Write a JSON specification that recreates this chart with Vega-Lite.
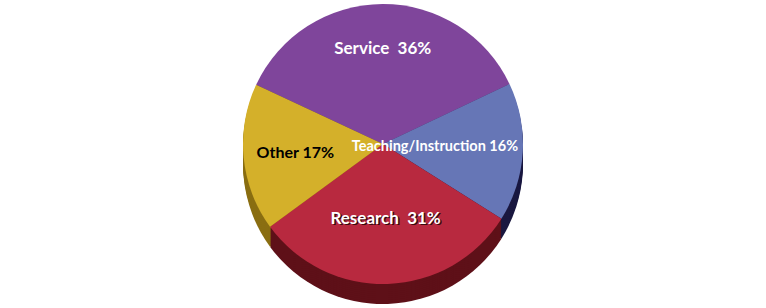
{
  "$schema": "https://vega.github.io/schema/vega-lite/v6.json",
  "width": 766,
  "height": 308,
  "autosize": {"type": "fit", "contains": "padding"},
  "background": "white",
  "config": {"view": {"stroke": null}},
  "data": {
    "values": [
      {"activity": "Service", "pct": 36, "order": 1, "label": "Service \u00a036%"},
      {"activity": "Teaching/Instruction", "pct": 16, "order": 2, "label": "Teaching/Instruction 16%"},
      {"activity": "Research", "pct": 31, "order": 3, "label": "Research \u00a031%"},
      {"activity": "Other", "pct": 17, "order": 4, "label": "Other 17%"}
    ]
  },
  "encoding": {
    "theta": {"field": "pct", "type": "quantitative", "stack": true, "scale": {"range": [-1.134, 5.149]}},
    "order": {"field": "order", "type": "quantitative"}
  },
  "layer": [
    {
      "mark": {"type": "arc", "radius": 140, "yOffset": 10},
      "encoding": {"fill": {"field": "activity", "type": "nominal", "legend": null,
        "scale": {"domain": ["Service", "Teaching/Instruction", "Research", "Other"], "range": ["#4a2660", "#1a1840", "#5e1018", "#8a6e12"]}}}
    },
    {
      "mark": {"type": "arc", "radius": 140, "yOffset": 8},
      "encoding": {"fill": {"field": "activity", "type": "nominal", "legend": null,
        "scale": {"domain": ["Service", "Teaching/Instruction", "Research", "Other"], "range": ["#4a2660", "#1a1840", "#5e1018", "#8a6e12"]}}}
    },
    {
      "mark": {"type": "arc", "radius": 140, "yOffset": 6},
      "encoding": {"fill": {"field": "activity", "type": "nominal", "legend": null,
        "scale": {"domain": ["Service", "Teaching/Instruction", "Research", "Other"], "range": ["#4a2660", "#1a1840", "#5e1018", "#8a6e12"]}}}
    },
    {
      "mark": {"type": "arc", "radius": 140, "yOffset": 4},
      "encoding": {"fill": {"field": "activity", "type": "nominal", "legend": null,
        "scale": {"domain": ["Service", "Teaching/Instruction", "Research", "Other"], "range": ["#4a2660", "#1a1840", "#5e1018", "#8a6e12"]}}}
    },
    {
      "mark": {"type": "arc", "radius": 140, "yOffset": 2},
      "encoding": {"fill": {"field": "activity", "type": "nominal", "legend": null,
        "scale": {"domain": ["Service", "Teaching/Instruction", "Research", "Other"], "range": ["#4a2660", "#1a1840", "#5e1018", "#8a6e12"]}}}
    },
    {
      "mark": {"type": "arc", "radius": 140, "yOffset": 0},
      "encoding": {"fill": {"field": "activity", "type": "nominal", "legend": null,
        "scale": {"domain": ["Service", "Teaching/Instruction", "Research", "Other"], "range": ["#4a2660", "#1a1840", "#5e1018", "#8a6e12"]}}}
    },
    {
      "mark": {"type": "arc", "radius": 140, "yOffset": -2},
      "encoding": {"fill": {"field": "activity", "type": "nominal", "legend": null,
        "scale": {"domain": ["Service", "Teaching/Instruction", "Research", "Other"], "range": ["#4a2660", "#1a1840", "#5e1018", "#8a6e12"]}}}
    },
    {
      "mark": {"type": "arc", "radius": 140, "yOffset": -4},
      "encoding": {"fill": {"field": "activity", "type": "nominal", "legend": null,
        "scale": {"domain": ["Service", "Teaching/Instruction", "Research", "Other"], "range": ["#4a2660", "#1a1840", "#5e1018", "#8a6e12"]}}}
    },
    {
      "mark": {"type": "arc", "radius": 140, "yOffset": -6},
      "encoding": {"fill": {"field": "activity", "type": "nominal", "legend": null,
        "scale": {"domain": ["Service", "Teaching/Instruction", "Research", "Other"], "range": ["#4a2660", "#1a1840", "#5e1018", "#8a6e12"]}}}
    },
    {
      "mark": {"type": "arc", "radius": 140, "yOffset": -8},
      "encoding": {"fill": {"field": "activity", "type": "nominal", "legend": null,
        "scale": {"domain": ["Service", "Teaching/Instruction", "Research", "Other"], "range": ["#4a2660", "#1a1840", "#5e1018", "#8a6e12"]}}}
    },
    {
      "mark": {"type": "arc", "radius": 140, "yOffset": -10},
      "encoding": {"color": {"field": "activity", "type": "nominal", "legend": null,
        "scale": {"domain": ["Service", "Teaching/Instruction", "Research", "Other"], "range": ["#7f459b", "#6676b6", "#b8293f", "#d4b02a"]}}}
    },
    {
      "mark": {"type": "text", "radius": 95, "yOffset": -10, "font": "Lato", "fontWeight": "bold", "fontSize": 17, "fill": "white"},
      "encoding": {"text": {"condition": {"test": "datum.activity === 'Service'", "field": "label"}, "value": ""}}
    },
    {
      "mark": {"type": "text", "radius": 52, "yOffset": -10, "font": "Lato", "fontWeight": "bold", "fontSize": 14.5, "fill": "white"},
      "encoding": {"text": {"condition": {"test": "datum.activity === 'Teaching/Instruction'", "field": "label"}, "value": ""}}
    },
    {
      "mark": {"type": "text", "radius": 75, "yOffset": -8.5, "xOffset": 1.5, "font": "Lato", "fontWeight": "bold", "fontSize": 17, "fill": "#3a0a0e"},
      "encoding": {"text": {"condition": {"test": "datum.activity === 'Research'", "field": "label"}, "value": ""}}
    },
    {
      "mark": {"type": "text", "radius": 75, "yOffset": -10, "font": "Lato", "fontWeight": "bold", "fontSize": 17, "fill": "white"},
      "encoding": {"text": {"condition": {"test": "datum.activity === 'Research'", "field": "label"}, "value": ""}}
    },
    {
      "mark": {"type": "text", "radius": 88, "yOffset": -10, "font": "Lato", "fontWeight": "bold", "fontSize": 16, "fill": "black"},
      "encoding": {"text": {"condition": {"test": "datum.activity === 'Other'", "field": "label"}, "value": ""}}
    }
  ],
  "resolve": {"scale": {"color": "independent"}}
}
